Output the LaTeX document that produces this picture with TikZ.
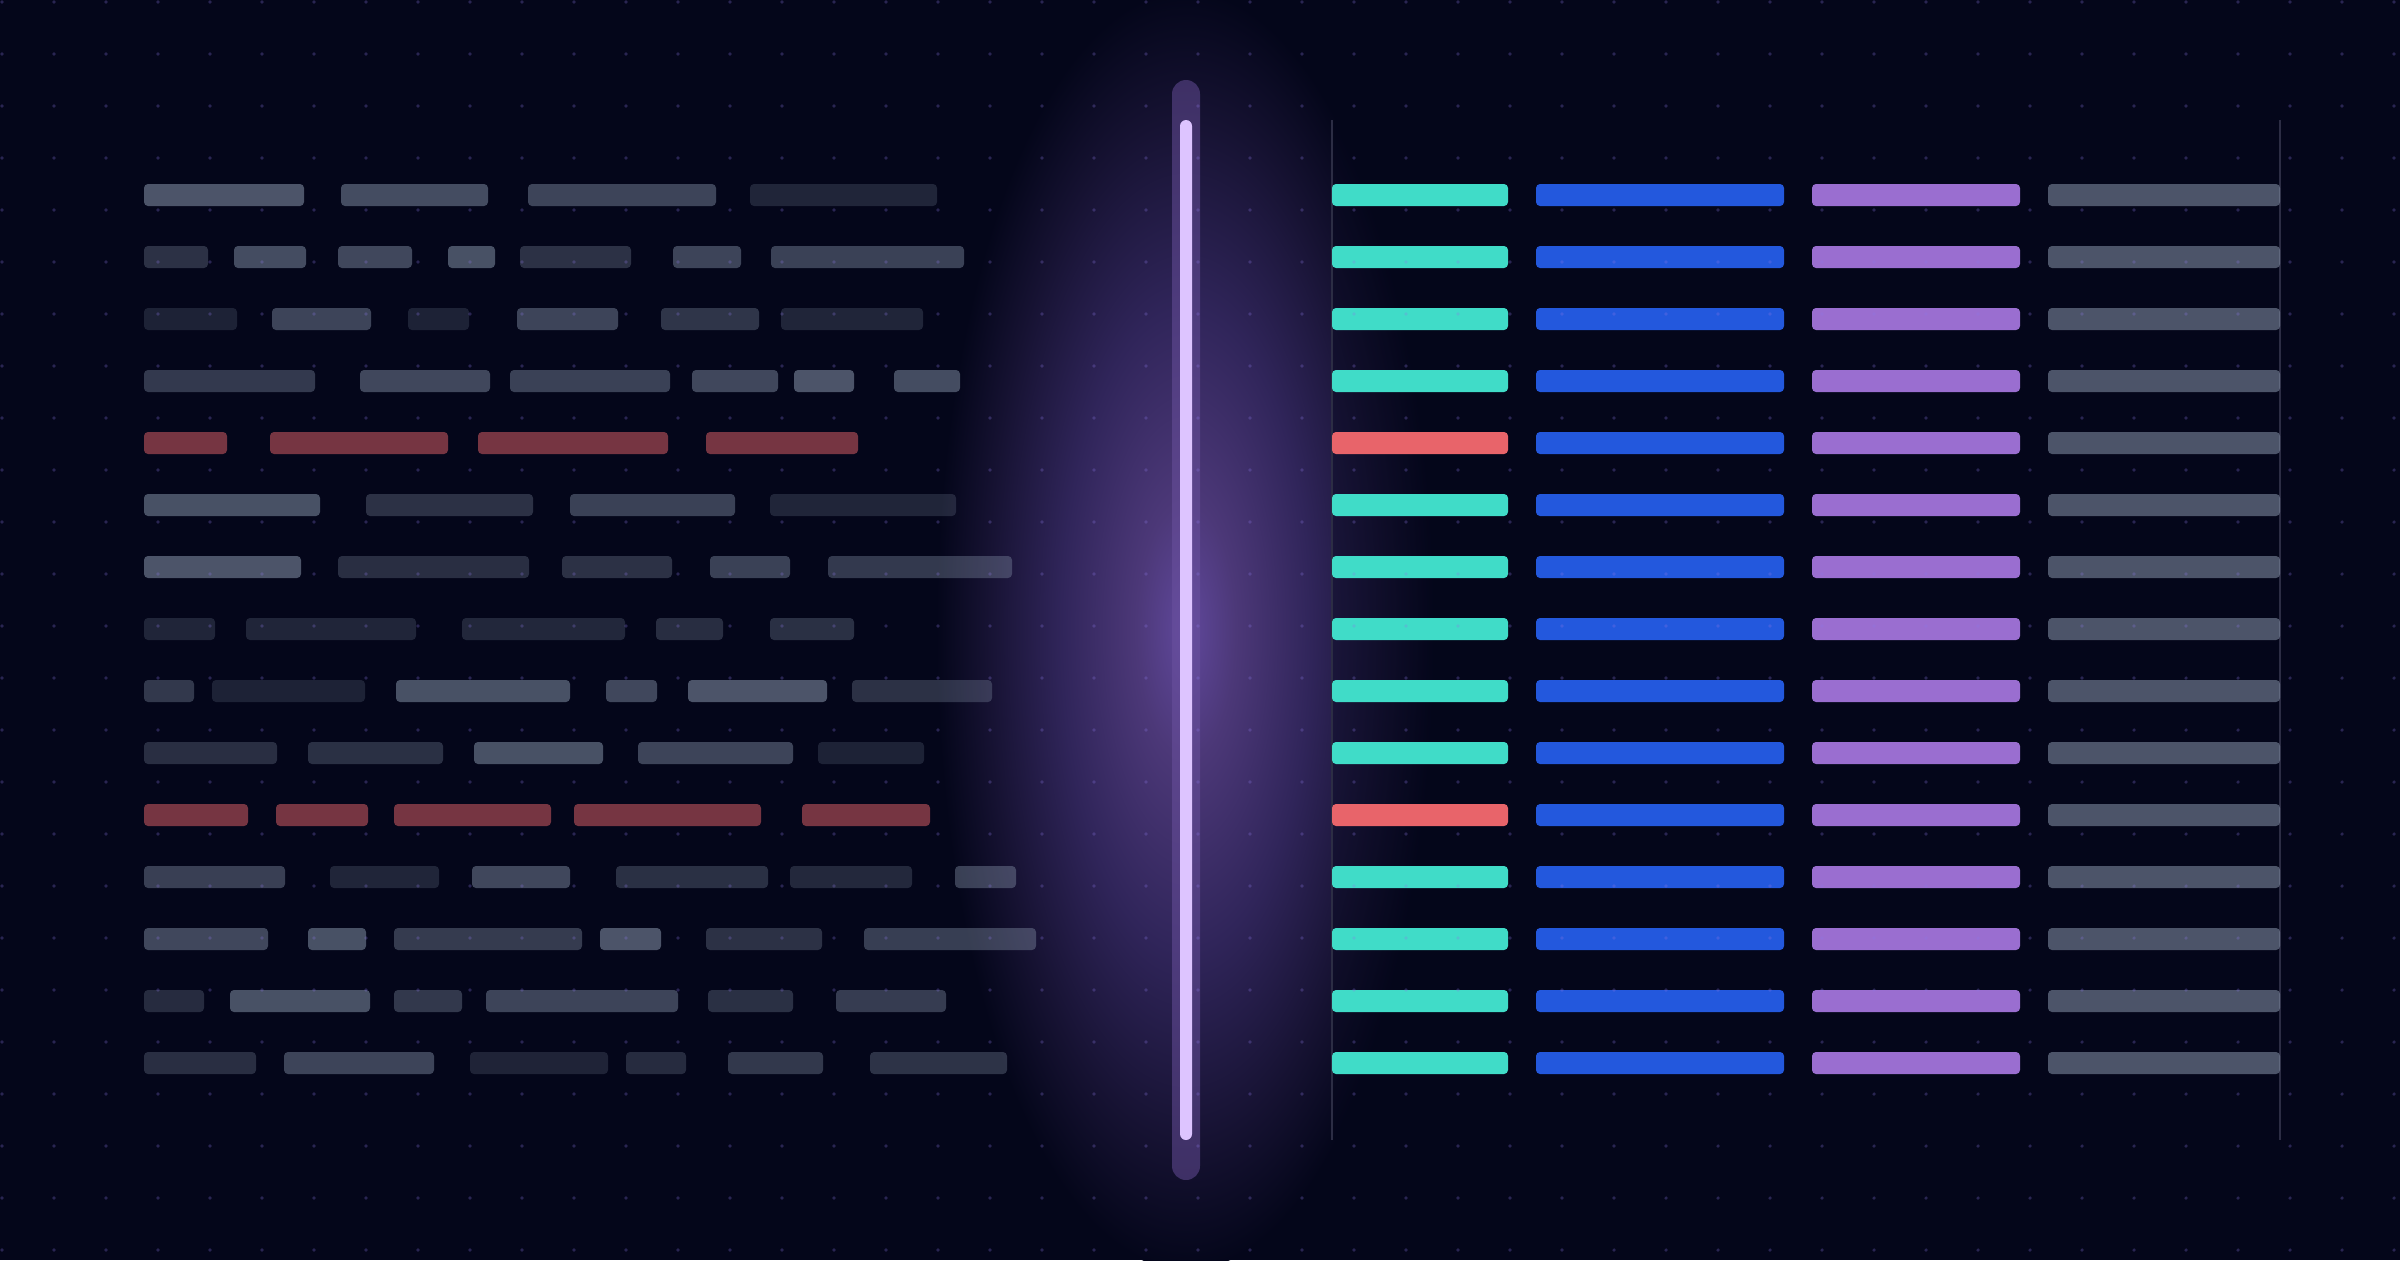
\documentclass[tikz,border=0pt]{standalone}
\usepackage{xcolor}
\usepackage{tikz}
\definecolor{inkbg}{RGB}{4,6,26}
\definecolor{slate}{RGB}{148,163,184}
\definecolor{errred}{RGB}{232,100,106}
\definecolor{mint}{RGB}{64,220,200}
\definecolor{royal}{RGB}{35,88,221}
\definecolor{lilac}{RGB}{154,110,208}
\definecolor{dotviolet}{RGB}{140,120,230}
\definecolor{rail}{RGB}{44,45,68}
\definecolor{glowcore}{RGB}{96,72,156}
\definecolor{glowmid}{RGB}{76,56,120}
\definecolor{glowlow}{RGB}{48,37,90}
\definecolor{glowfaint}{RGB}{22,18,50}
\definecolor{scanbody}{RGB}{108,82,160}
\definecolor{scanlight}{RGB}{221,196,255}
\pgfdeclareradialshading{scanglow}{\pgfpoint{0bp}{0bp}}{color(0bp)=(glowcore); color(5bp)=(glowmid); color(12.5bp)=(glowlow); color(20bp)=(glowfaint); color(25bp)=(inkbg); color(50bp)=(inkbg)}
\tikzset{
    lbar/.style={fill=slate, fill opacity=#1, rounded corners=0.4mm},
    redbar/.style={fill=errred, fill opacity=0.5, rounded corners=0.4mm},
    colbar/.style={fill=#1, rounded corners=0.4mm}
}

\begin{document}
\begin{tikzpicture}[x=0.1mm, y=-0.1mm]
    % Canvas
    \useasboundingbox (0,0) rectangle (2400,1260);
    \clip (0,0) rectangle (2400,1260);
    \fill[inkbg] (0,0) rectangle (2400,1260);

    % Glow round the scan line
    \shade[shading=scanglow] (1186,630) ellipse [x radius=25mm, y radius=64mm];

    % Left side - raw rows
    \foreach \a/\b/\o in {144/304/0.5, 341/488/0.45, 528/716/0.4, 750/937/0.2}
        \fill[lbar=\o] (\a,184) rectangle (\b,206);
    \foreach \a/\b/\o in {144/208/0.28, 234/306/0.45, 338/412/0.42, 448/495/0.48, 520/631/0.28, 673/741/0.4, 771/964/0.38}
        \fill[lbar=\o] (\a,246) rectangle (\b,268);
    \foreach \a/\b/\o in {144/237/0.18, 272/371/0.4, 408/469/0.18, 517/618/0.4, 661/759/0.3, 781/923/0.2}
        \fill[lbar=\o] (\a,308) rectangle (\b,330);
    \foreach \a/\b/\o in {144/315/0.33, 360/490/0.42, 510/670/0.38, 692/778/0.42, 794/854/0.5, 894/960/0.45}
        \fill[lbar=\o] (\a,370) rectangle (\b,392);
    \foreach \a/\b in {144/227, 270/448, 478/668, 706/858}
        \fill[redbar] (\a,432) rectangle (\b,454);
    \foreach \a/\b/\o in {144/320/0.48, 366/533/0.28, 570/735/0.38, 770/956/0.2}
        \fill[lbar=\o] (\a,494) rectangle (\b,516);
    \foreach \a/\b/\o in {144/301/0.5, 338/529/0.26, 562/672/0.28, 710/790/0.38, 828/1012/0.33}
        \fill[lbar=\o] (\a,556) rectangle (\b,578);
    \foreach \a/\b/\o in {144/215/0.2, 246/416/0.2, 462/625/0.21, 656/723/0.25, 770/854/0.27}
        \fill[lbar=\o] (\a,618) rectangle (\b,640);
    \foreach \a/\b/\o in {144/194/0.32, 212/365/0.18, 396/570/0.48, 606/657/0.42, 688/827/0.5, 852/992/0.28}
        \fill[lbar=\o] (\a,680) rectangle (\b,702);
    \foreach \a/\b/\o in {144/277/0.26, 308/443/0.27, 474/603/0.48, 638/793/0.4, 818/924/0.18}
        \fill[lbar=\o] (\a,742) rectangle (\b,764);
    \foreach \a/\b in {144/248, 276/368, 394/551, 574/761, 802/930}
        \fill[redbar] (\a,804) rectangle (\b,826);
    \foreach \a/\b/\o in {144/285/0.37, 330/439/0.2, 472/570/0.42, 616/768/0.27, 790/912/0.22, 955/1016/0.37}
        \fill[lbar=\o] (\a,866) rectangle (\b,888);
    \foreach \a/\b/\o in {144/268/0.42, 308/366/0.48, 394/582/0.34, 600/661/0.5, 706/822/0.28, 864/1036/0.36}
        \fill[lbar=\o] (\a,928) rectangle (\b,950);
    \foreach \a/\b/\o in {144/204/0.24, 230/370/0.48, 394/462/0.32, 486/678/0.4, 708/793/0.27, 836/946/0.35}
        \fill[lbar=\o] (\a,990) rectangle (\b,1012);
    \foreach \a/\b/\o in {144/256/0.26, 284/434/0.4, 470/608/0.19, 626/686/0.24, 728/823/0.32, 870/1007/0.29}
        \fill[lbar=\o] (\a,1052) rectangle (\b,1074);

    % Right side - parsed table
    \fill[inkbg, fill opacity=0.4] (1332,120) rectangle (2280,1140);
    \draw[rail, line width=0.15mm] (1332,120) -- (1332,1140);
    \draw[rail, line width=0.15mm] (2280,120) -- (2280,1140);
    \foreach \y/\c in {184/mint, 246/mint, 308/mint, 370/mint, 432/errred, 494/mint, 556/mint, 618/mint,
                       680/mint, 742/mint, 804/errred, 866/mint, 928/mint, 990/mint, 1052/mint} {
        \fill[colbar=\c] (1332,\y) rectangle (1508,\y+22);
        \fill[colbar=royal] (1536,\y) rectangle (1784,\y+22);
        \fill[colbar=lilac] (1812,\y) rectangle (2020,\y+22);
        \fill[lbar=0.5] (2048,\y) rectangle (2280,\y+22);
    }

    % Scan line
    \fill[scanbody, fill opacity=0.5, rounded corners=1.4mm] (1172,80) rectangle (1200,1180);
    \fill[scanlight, rounded corners=0.6mm] (1180,120) rectangle (1192,1140);

    % Dot grid
    \foreach \i in {0,...,46}
        \foreach \j in {0,...,24}
            \fill[dotviolet, fill opacity=0.28] ({2+52*\i},{2+52*\j}) circle (0.18mm);
\end{tikzpicture}
\end{document}
